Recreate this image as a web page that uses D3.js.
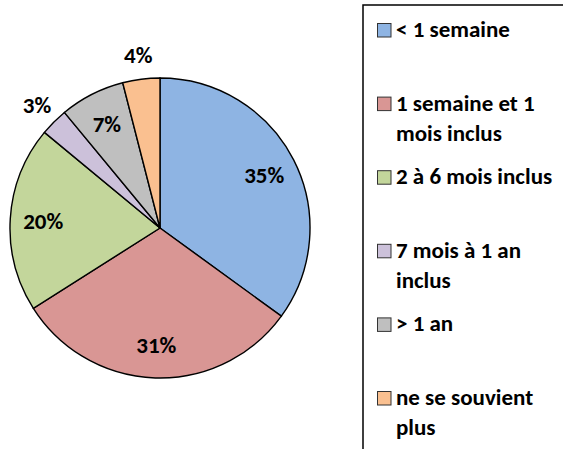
<!DOCTYPE html>
<html lang="fr">
<head>
<meta charset="UTF-8">
<script src="https://cdn.jsdelivr.net/npm/d3@7/dist/d3.min.js"></script>
<style>
  body { margin: 0; background: #fff; }
  svg text { font-family: Carlito, "Open Sans", "Liberation Sans", sans-serif; font-weight: bold; fill: #000; }
</style>
</head>
<body>
<script>
// Data
const categories = ["< 1 semaine", "1 semaine et 1 mois inclus", "2 à 6 mois inclus", "7 mois à 1 an inclus", "> 1 an", "ne se souvient plus"];
const values = [35, 31, 20, 3, 7, 4];
const legendLines = [["< 1 semaine"], ["1 semaine et 1", "mois inclus"], ["2 à 6 mois inclus"], ["7 mois à 1 an", "inclus"], ["> 1 an"], ["ne se souvient", "plus"]];
const colors = ["#8EB4E3", "#D99694", "#C3D69B", "#CCC1DA", "#BFBFBF", "#FAC090"];

const width = 563, height = 449;
const svg = d3.select("body").append("svg")
    .attr("width", width).attr("height", height);

const cx = 160, cy = 228, r = 150;
const color = d3.scaleOrdinal().domain(categories).range(colors);

const pie = d3.pie().sort(null).value(d => d.v);
const arcs = pie(categories.map((c, i) => ({c: c, v: values[i]})));
const arc = d3.arc().innerRadius(0).outerRadius(r);

const g = svg.append("g").attr("transform", `translate(${cx},${cy})`);
g.selectAll("path").data(arcs).enter().append("path")
    .attr("d", arc)
    .attr("fill", d => color(d.data.c))
    .attr("stroke", "#000")
    .attr("stroke-width", 1.4);

// labels: inside for big slices, outside for small ones
const inner = d3.arc().innerRadius(r * 0.78).outerRadius(r * 0.78);
const outer = d3.arc().innerRadius(r * 1.16).outerRadius(r * 1.16);
g.selectAll("text").data(arcs).enter().append("text")
    .attr("transform", d => {
        const p = (d.data.v <= 4 ? outer : inner).centroid(d);
        return `translate(${p[0]},${p[1]})`;
    })
    .attr("text-anchor", "middle")
    .attr("dominant-baseline", "central")
    .style("font-size", "23px")
    .text(d => d.data.v + "%");

// Legend
svg.append("rect")
    .attr("x", 363).attr("y", 5)
    .attr("width", 250).attr("height", 500)
    .attr("fill", "none").attr("stroke", "#000").attr("stroke-width", 1.5);

const rowY = d3.scaleLinear().domain([0, categories.length - 1]).range([37, 405]);
const leg = svg.selectAll(".leg").data(categories).enter().append("g")
    .attr("class", "leg")
    .attr("transform", (d, i) => `translate(377,${rowY(i)})`);
leg.append("rect")
    .attr("x", 0.5).attr("y", -13.5)
    .attr("width", 13.5).attr("height", 13.5)
    .attr("fill", d => color(d))
    .attr("stroke", "#333").attr("stroke-width", 1);
leg.each(function(d, i) {
    d3.select(this).selectAll("text").data(legendLines[i]).enter().append("text")
        .attr("x", 19)
        .attr("y", (t, j) => j * 30)
        .style("font-size", "23px")
        .text(t => t);
});
</script>
</body>
</html>
